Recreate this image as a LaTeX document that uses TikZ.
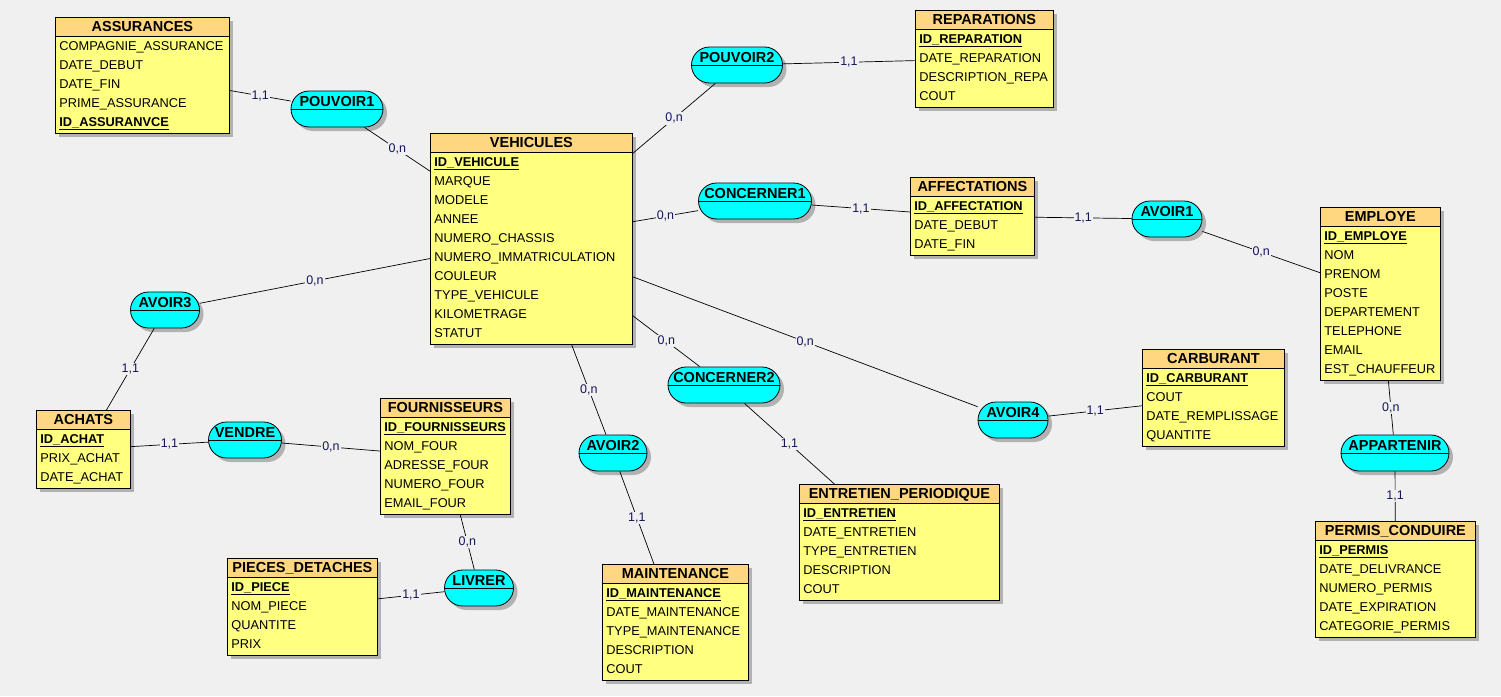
\documentclass[tikz,border=0pt]{standalone}
\usepackage{fontspec}
\setmainfont{Liberation Sans}
\usepackage{tikz}
\usetikzlibrary{shadows}
\definecolor{fond}{HTML}{F0F0F0}
\definecolor{corps}{HTML}{FFFF80}
\definecolor{entete}{HTML}{FFD780}
\definecolor{assoc}{HTML}{00FFFF}
\definecolor{cardi}{HTML}{14145A}
\tikzset{
  entite/.style={draw,line width=0.8pt,fill=corps,anchor=north west,align=left,
    inner xsep=4pt,inner ysep=1pt,font=\fontsize{12.8}{19}\selectfont,
    execute at begin node=\strut,execute at end node=\strut,
    drop shadow={shadow xshift=4pt,shadow yshift=-4pt,fill=black!30,opacity=1},
    path picture={\fill[entete] (path picture bounding box.north west) rectangle ([yshift=-19pt]path picture bounding box.north east);
      \draw[line width=0.8pt] ([yshift=-19pt]path picture bounding box.north west) -- ([yshift=-19pt]path picture bounding box.north east);}},
  asso/.style={draw,line width=0.8pt,fill=assoc,rounded corners=18pt,minimum height=36pt,
    inner xsep=2pt,inner ysep=0pt,text height=11pt,text depth=17pt,
    font=\bfseries\fontsize{14.5}{17}\selectfont,
    drop shadow={shadow xshift=4pt,shadow yshift=-4pt,fill=black!30,opacity=1},
    path picture={\draw[line width=0.8pt] (path picture bounding box.west) -- (path picture bounding box.east);}},
  lien/.style={line width=0.7pt,draw=black},
  card/.style={fill=fond,inner sep=1pt,text=cardi,font=\fontsize{12.5}{14}\selectfont}
}
\newcommand{\titre}[1]{\makebox[\linewidth][c]{\bfseries\fontsize{14.5}{19}\selectfont #1}}
\newcommand{\cle}[1]{\underline{\textbf{#1}}}

\begin{document}
\begin{tikzpicture}[x=1pt,y=-1pt]
 \path[use as bounding box,fill=fond] (0,0) rectangle (1501,696);
 \node[entite,text width=166pt] (ass) at (55,17) {\titre{ASSURANCES}\\COMPAGNIE\_ASSURANCE\\DATE\_DEBUT\\DATE\_FIN\\PRIME\_ASSURANCE\\\cle{ID\_ASSURANVCE}};
 \node[entite,text width=130pt] (rep) at (915,10) {\titre{REPARATIONS}\\\cle{ID\_REPARATION}\\DATE\_REPARATION\\DESCRIPTION\_REPA\\COUT};
 \node[entite,text width=194pt] (veh) at (430,133) {\titre{VEHICULES}\\\cle{ID\_VEHICULE}\\MARQUE\\MODELE\\ANNEE\\NUMERO\_CHASSIS\\NUMERO\_IMMATRICULATION\\COULEUR\\TYPE\_VEHICULE\\KILOMETRAGE\\STATUT};
 \node[entite,text width=116pt] (aff) at (910,177) {\titre{AFFECTATIONS}\\\cle{ID\_AFFECTATION}\\DATE\_DEBUT\\DATE\_FIN};
 \node[entite,text width=112pt] (emp) at (1320,207) {\titre{EMPLOYE}\\\cle{ID\_EMPLOYE}\\NOM\\PRENOM\\POSTE\\DEPARTEMENT\\TELEPHONE\\EMAIL\\EST\_CHAUFFEUR};
 \node[entite,text width=134pt] (car) at (1142,349) {\titre{CARBURANT}\\\cle{ID\_CARBURANT}\\COUT\\DATE\_REMPLISSAGE\\QUANTITE};
 \node[entite,text width=86pt] (ach) at (36,410) {\titre{ACHATS}\\\cle{ID\_ACHAT}\\PRIX\_ACHAT\\DATE\_ACHAT};
 \node[entite,text width=122pt] (fou) at (380,398) {\titre{FOURNISSEURS}\\\cle{ID\_FOURNISSEURS}\\NOM\_FOUR\\ADRESSE\_FOUR\\NUMERO\_FOUR\\EMAIL\_FOUR};
 \node[entite,text width=142pt] (pie) at (227,558) {\titre{PIECES\_DETACHES}\\\cle{ID\_PIECE}\\NOM\_PIECE\\QUANTITE\\PRIX};
 \node[entite,text width=138pt] (mai) at (602,564) {\titre{MAINTENANCE}\\\cle{ID\_MAINTENANCE}\\DATE\_MAINTENANCE\\TYPE\_MAINTENANCE\\DESCRIPTION\\COUT};
 \node[entite,text width=192pt] (ent) at (799,484) {\titre{ENTRETIEN\_PERIODIQUE}\\\cle{ID\_ENTRETIEN}\\DATE\_ENTRETIEN\\TYPE\_ENTRETIEN\\DESCRIPTION\\COUT};
 \node[entite,text width=152pt] (per) at (1315,521) {\titre{PERMIS\_CONDUIRE}\\\cle{ID\_PERMIS}\\DATE\_DELIVRANCE\\NUMERO\_PERMIS\\DATE\_EXPIRATION\\CATEGORIE\_PERMIS};

 \node[asso,minimum width=92pt] (pv1) at (337,109) {POUVOIR1};
 \node[asso,minimum width=91pt] (pv2) at (737,65) {POUVOIR2};
 \node[asso,minimum width=113pt] (co1) at (755,201) {CONCERNER1};
 \node[asso,minimum width=70pt] (av1) at (1167,219) {AVOIR1};
 \node[asso,minimum width=69pt] (av3) at (165,310) {AVOIR3};
 \node[asso,minimum width=73pt] (ven) at (245,440) {VENDRE};
 \node[asso,minimum width=112pt] (co2) at (724,385) {CONCERNER2};
 \node[asso,minimum width=68pt] (av2) at (613,453) {AVOIR2};
 \node[asso,minimum width=70pt] (av4) at (1013,420) {AVOIR4};
 \node[asso,minimum width=69pt] (liv) at (479,588) {LIVRER};
 \node[asso,minimum width=108pt] (app) at (1395,453) {APPARTENIR};

 \draw[lien] (ass) -- node[card] {1,1} (pv1);
 \draw[lien] (pv1) -- node[card] {0,n} (veh);
 \draw[lien] (pv2) -- node[card] {0,n} (veh);
 \draw[lien] (pv2) -- node[card] {1,1} (rep);
 \draw[lien] (veh) -- node[card] {0,n} (co1);
 \draw[lien] (co1) -- node[card] {1,1} (aff);
 \draw[lien] (aff) -- node[card] {1,1} (av1);
 \draw[lien] (av1) -- node[card] {0,n} (emp);
 \draw[lien] (veh) -- node[card] {0,n} (av3);
 \draw[lien] (av3) -- node[card] {1,1} (ach);
 \draw[lien] (ach) -- node[card] {1,1} (ven);
 \draw[lien] (ven) -- node[card] {0,n} (fou);
 \draw[lien] (fou) -- node[card] {0,n} (liv);
 \draw[lien] (pie) -- node[card] {1,1} (liv);
 \draw[lien] (veh) -- node[card] {0,n} (av2);
 \draw[lien] (av2) -- node[card] {1,1} (mai);
 \draw[lien] (veh) -- node[card] {0,n} (co2);
 \draw[lien] (co2) -- node[card] {1,1} (ent);
 \draw[lien] (veh) -- node[card] {0,n} (av4);
 \draw[lien] (av4) -- node[card] {1,1} (car);
 \draw[lien] (emp) -- node[card] {0,n} (app);
 \draw[lien] (app) -- node[card] {1,1} (per);
\end{tikzpicture}
\end{document}
